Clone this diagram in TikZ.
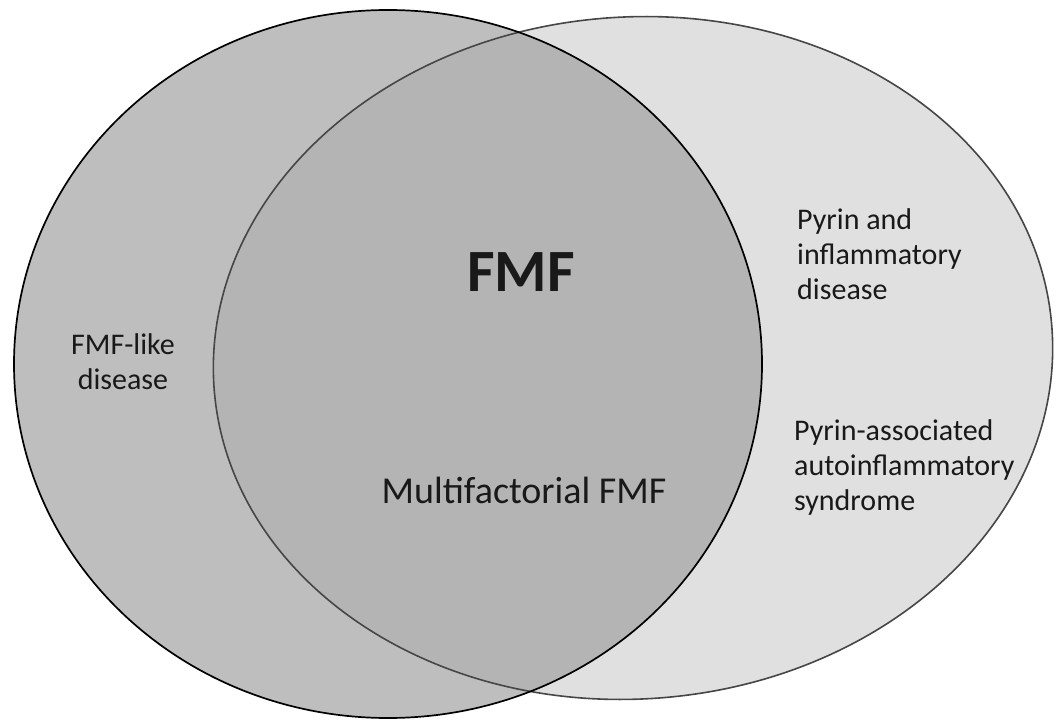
\documentclass[tikz,border=0pt]{standalone}
\usepackage{fontspec}
\setmainfont{Carlito}
\definecolor{rfill}{RGB}{224,224,224}
\definecolor{lfill}{RGB}{163,163,163}
\definecolor{rline}{RGB}{70,70,70}
\definecolor{txt}{RGB}{25,25,25}
\begin{document}
\begin{tikzpicture}[x=1pt,y=1pt,
  lbl/.style={inner sep=0pt, font=\fontsize{30}{35}\selectfont, text=txt},
  big/.style={inner sep=0pt, font=\fontsize{60}{70}\selectfont\bfseries, text=txt},
  mid/.style={inner sep=0pt, font=\fontsize{38}{44}\selectfont, text=txt}]
\useasboundingbox (0,0) rectangle (1056,721);
% fills
\fill[rfill, rotate around={4:(633,363)}] (633,363) ellipse [x radius=420, y radius=341];
\fill[lfill, fill opacity=0.71] (388,357) ellipse [x radius=374, y radius=354];
% outlines
\draw[rline, line width=1.6pt, rotate around={4:(633,363)}] (633,363) ellipse [x radius=420, y radius=341];
\draw[black, line width=1.7pt] (388,357) ellipse [x radius=374, y radius=354];
% labels
\node[big, anchor=base] (fmf) at (521,429) {FMF};
\node[mid, anchor=base] (multi) at (524,218) {Multifactorial FMF};
\node[lbl, anchor=north, align=center] (like) at (123,388) {FMF-like\\disease};
\node[lbl, anchor=north west, align=left] (pyr) at (797,513) {Pyrin and\\inflammatory\\disease};
\node[lbl, anchor=north west, align=left] (paas) at (794,302) {Pyrin-associated\\autoinflammatory\\syndrome};
\end{tikzpicture}
\end{document}
